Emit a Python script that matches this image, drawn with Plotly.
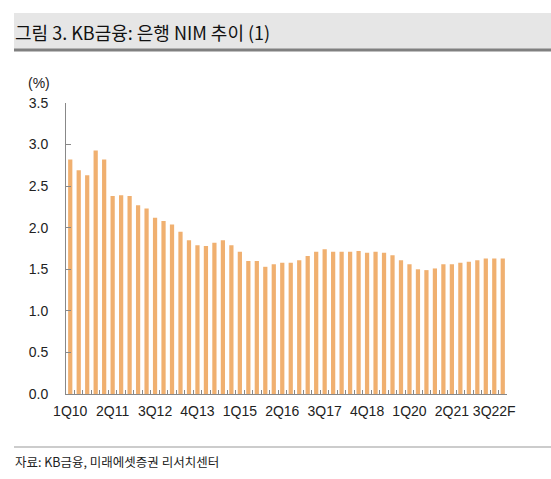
import plotly.graph_objects as go

# quarters 1Q10 .. 4Q22F
quarters = [f"{q}Q{y:02d}" for y in range(10, 23) for q in range(1, 5)]
quarters[-2] = "3Q22F"
quarters[-1] = "4Q22F"

nim = [
    2.82, 2.69, 2.63, 2.93, 2.82, 2.38, 2.39, 2.38, 2.27, 2.23,
    2.12, 2.08, 2.04, 1.95, 1.85, 1.79, 1.78, 1.82, 1.85, 1.79,
    1.71, 1.60, 1.60, 1.53, 1.56, 1.58, 1.58, 1.61, 1.66, 1.71,
    1.74, 1.71, 1.71, 1.71, 1.72, 1.70, 1.71, 1.70, 1.67, 1.61,
    1.56, 1.50, 1.49, 1.51, 1.56, 1.56, 1.58, 1.59, 1.61, 1.63,
    1.63, 1.63,
]

tick_text = [q if i % 5 == 0 else "" for i, q in enumerate(quarters)]

title_text = "그림 3. KB금융: 은행 NIM 추이 (1)"
source_text = "자료: KB금융, 미래에셋증권 리서치센터"

W, H = 551, 479
ml, mr, mt, mb = 66, 44, 103, 85
pw = W - ml - mr
ph = H - mt - mb


def px_x(p):
    return (p - ml) / pw


def px_y(p):
    return (H - mb - p) / ph


kr_font = "Noto Sans CJK KR"
num_font = "Liberation Sans"

fig = go.Figure(go.Bar(
    x=quarters, y=nim,
    marker=dict(color="#F0B070", line=dict(width=0)),
    width=0.5,
))

fig.update_layout(
    width=W, height=H,
    margin=dict(l=ml, r=mr, t=mt, b=mb),
    paper_bgcolor="white", plot_bgcolor="white",
    showlegend=False,
    font=dict(family=num_font, size=14, color="#222"),
    xaxis=dict(
        type="category",
        tickmode="array", tickvals=quarters, ticktext=tick_text,
        tickangle=0,
        tickson="boundaries",
        ticks="inside", ticklen=4, tickcolor="#888",
        showline=True, linecolor="#888", linewidth=1,
        showgrid=False,
        ticklabelstandoff=4,
        tickfont=dict(family=num_font, size=14, color="#222"),
    ),
    yaxis=dict(
        range=[0, 3.5],
        tick0=0, dtick=0.5, tickformat=".1f",
        ticks="inside", ticklen=5, tickcolor="#888",
        showline=True, linecolor="#888", linewidth=1,
        showgrid=False, zeroline=False,
        ticklabelstandoff=14,
        tickfont=dict(family=num_font, size=14, color="#222"),
    ),
    shapes=[
        dict(type="rect", xref="paper", yref="paper",
             x0=px_x(14), x1=px_x(W), y0=px_y(49), y1=px_y(13),
             fillcolor="#E6E6E6", line=dict(width=0), layer="below"),
        dict(type="line", xref="paper", yref="paper",
             x0=px_x(14), x1=px_x(W), y0=px_y(50), y1=px_y(50),
             line=dict(color="#808080", width=3)),
        dict(type="line", xref="paper", yref="paper",
             x0=px_x(14), x1=px_x(W), y0=px_y(447), y1=px_y(447),
             line=dict(color="#999", width=1)),
    ],
    annotations=[
        dict(text=title_text, xref="paper", yref="paper",
             x=px_x(13), y=px_y(32), xanchor="left", yanchor="middle",
             showarrow=False, font=dict(family=kr_font, size=18, color="#111")),
        dict(text="(%)", xref="paper", yref="paper",
             x=px_x(39), y=px_y(83), xanchor="center", yanchor="middle",
             showarrow=False, font=dict(family=num_font, size=14, color="#222")),
        dict(text=source_text, xref="paper", yref="paper",
             x=px_x(13), y=px_y(461), xanchor="left", yanchor="middle",
             showarrow=False, font=dict(family=kr_font, size=12.5, color="#222")),
    ],
)

fig.write_html(
    "out.html",
    config={"displayModeBar": False},
    post_script="document.body.style.margin='0';document.body.style.overflow='hidden';",
)
